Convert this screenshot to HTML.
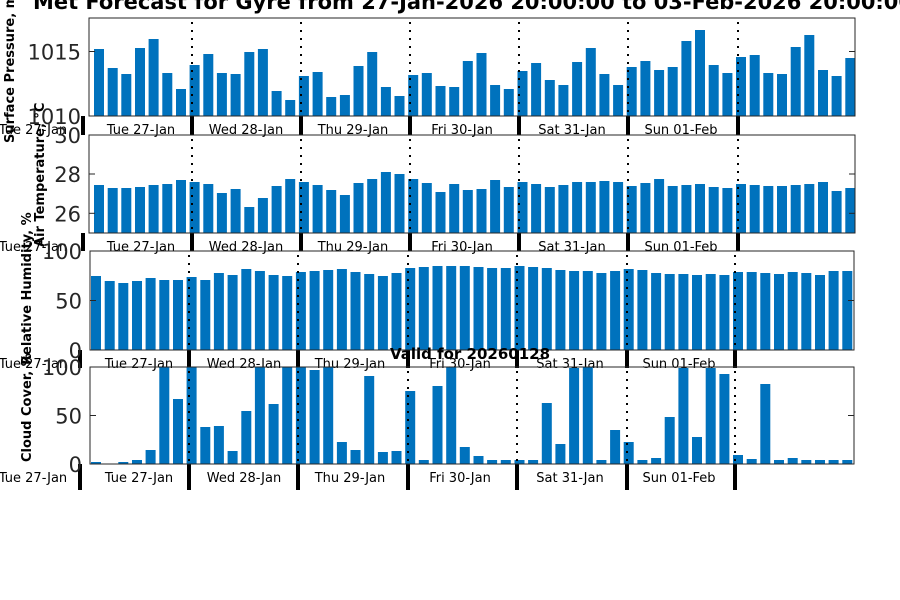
<!DOCTYPE html>
<html><head><meta charset="utf-8"><style>
html,body{margin:0;padding:0;background:#fff;width:900px;height:600px;overflow:hidden}
svg{display:block;font-family:"DejaVu Sans","Liberation Sans",sans-serif}
</style></head><body>
<svg id="s" width="900" height="600" xmlns="http://www.w3.org/2000/svg"></svg>
<script>
const S=document.getElementById('s');let h='';
const p1=[49,68,74,48,39,73,89,65,54,73,74,52,49,91,100,76,72,97,95,66,52,87,96,75,73,86,87,61,53,85,89,71,63,80,85,62,48,74,85,67,61,70,67,41,30,65,73,57,55,73,74,47,35,70,76,58];
const p2=[185,188,188,187,185,184,180,182,184,193,189,207,198,186,179,182,185,190,195,183,179,172,174,179,183,192,184,190,189,180,187,182,184,187,185,182,182,181,182,186,183,179,186,185,184,187,188,184,185,186,186,185,184,182,191,188];
const p3=[276,281,283,281,278,280,280,277,280,273,275,269,271,275,276,272,271,270,269,272,274,276,273,268,267,266,266,266,267,268,268,266,267,268,270,271,271,273,271,269,270,273,274,274,275,274,275,272,272,273,274,272,273,275,271,271];
const p4=[462,464,462,460,450,367,399,367,427,426,451,411,367,404,367,367,370,367,442,450,376,452,451,391,460,386,367,447,456,460,460,460,460,403,444,368,367,460,430,442,460,458,417,368,437,368,374,455,459,384,460,458,460,460,460,460];
const panels=[
 {t:18,b:116,l:89,r:855,c0:99,d:p1,dx:[192,301,410,519,628,738],lt:83,ticks:[[51.5,'1015'],[116,'1010']],lab:[[141,'Tue 27-Jan'],[246,'Wed 28-Jan'],[353,'Thu 29-Jan'],[462,'Fri 30-Jan'],[572,'Sat 31-Jan'],[681,'Sun 01-Feb']],ly:134,tb:135},
 {t:135,b:233,l:89,r:855,c0:99,d:p2,dx:[192,301,410,519,628,738],lt:83,ticks:[[135,'30'],[174,'28'],[213.3,'26']],lab:[[141,'Tue 27-Jan'],[246,'Wed 28-Jan'],[353,'Thu 29-Jan'],[462,'Fri 30-Jan'],[572,'Sat 31-Jan'],[681,'Sun 01-Feb']],ly:251,tb:251},
 {t:251,b:350,l:90,r:854,c0:96,d:p3,dx:[189,298,408,517,627,735],lt:80,ticks:[[251,'100'],[300.5,'50'],[350,'0']],lab:[[139,'Tue 27-Jan'],[244,'Wed 28-Jan'],[350,'Thu 29-Jan'],[460,'Fri 30-Jan'],[570,'Sat 31-Jan'],[679,'Sun 01-Feb']],ly:368,tb:368},
 {t:367,b:464,l:90,r:854,c0:96,d:p4,dx:[189,298,408,517,627,735],lt:80,ticks:[[367,'100'],[415.5,'50'],[464,'0']],lab:[[139,'Tue 27-Jan'],[244,'Wed 28-Jan'],[350,'Thu 29-Jan'],[460,'Fri 30-Jan'],[570,'Sat 31-Jan'],[679,'Sun 01-Feb']],ly:482,tb:490}
];
const lefty=[134,251,368,482];
panels.forEach((P,i)=>{
 P.d.forEach((y,k)=>{const cx=P.c0+k*13.66;if(y<P.b)h+=`<rect x="${(cx-5).toFixed(1)}" y="${y}" width="10" height="${P.b-y}" fill="#0072bd"/>`;});
 P.dx.forEach(x=>{h+=`<line x1="${x}" y1="${P.t+4}" x2="${x}" y2="${P.b}" stroke="#000" stroke-width="2" stroke-dasharray="2,6"/>`;
   h+=`<rect x="${x-2}" y="${P.b}" width="4" height="${P.tb-P.b}" fill="#000"/>`;});
 h+=`<rect x="${P.lt-2}" y="${P.b}" width="4" height="${P.tb-P.b}" fill="#000"/>`;
 h+=`<rect x="${P.l}" y="${P.t}" width="${P.r-P.l}" height="${P.b-P.t}" fill="none" stroke="#262626" stroke-width="1"/>`;
 P.ticks.forEach(([y,s])=>{h+=`<line x1="${P.l}" y1="${y}" x2="${P.l+6}" y2="${y}" stroke="#262626"/><line x1="${P.r}" y1="${y}" x2="${P.r-6}" y2="${y}" stroke="#262626"/>`;
   h+=`<text x="${P.l-8}" y="${y+8}" font-size="21" fill="#262626" text-anchor="end">${s}</text>`;});
 P.lab.forEach(([x,s])=>{h+=`<text x="${x}" y="${P.ly}" font-size="13" fill="#000" text-anchor="middle">${s}</text>`;});
 h+=`<text x="33" y="${lefty[i]}" font-size="13" fill="#000" text-anchor="middle">Tue 27-Jan</text>`;
});
const yl=[[14,143,'Surface Pressure, mb'],[44,247,'Air Temperature, °C'],[31,365,'Relative Humidity, %'],[31,462,'Cloud Cover, %']];
yl.forEach(([x,y,s])=>{h+=`<text transform="translate(${x},${y}) rotate(-90)" font-size="13" font-weight="bold" fill="#000">${s}</text>`;});
h+=`<text x="33" y="9" font-size="21" font-weight="bold" fill="#000" textLength="880" lengthAdjust="spacingAndGlyphs">Met Forecast for Gyre from 27-Jan-2026 20:00:00 to 03-Feb-2026 20:00:00</text>`;
h+=`<text x="470" y="359" font-size="15" font-weight="bold" fill="#000" text-anchor="middle">Valid for 20260128</text>`;
S.innerHTML=h;
</script>
</body></html>
